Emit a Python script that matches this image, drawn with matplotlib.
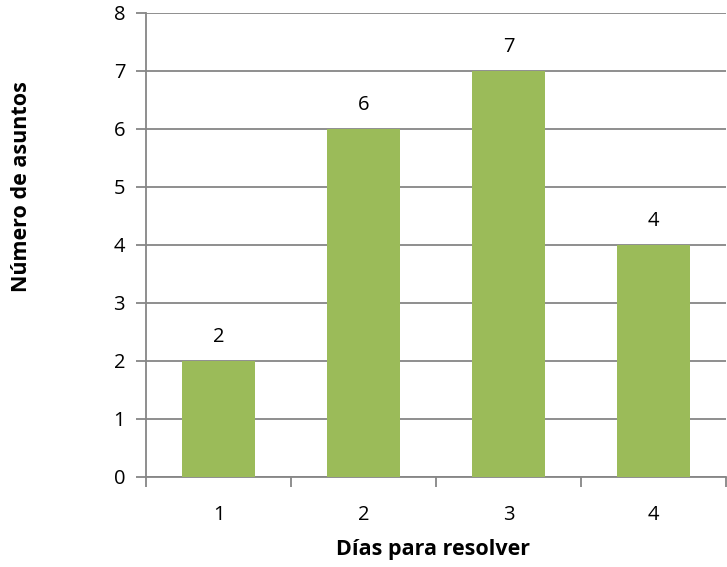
import numpy as np
import matplotlib.pyplot as plt

# datos
dias = ["1", "2", "3", "4"]
asuntos = [2, 6, 7, 4]
y_ticks = [0, 1, 2, 3, 4, 5, 6, 7, 8]

plt.rcParams['font.family'] = ['Open Sans', 'DejaVu Sans']
gris = '#868686'
verde = '#9BBB59'

fig = plt.figure(figsize=(7.27, 5.67), dpi=100)
ax = fig.add_axes([146/727, 1 - 477/567, 580/727, 464/567])

x = np.arange(len(dias))
barras = ax.bar(x, asuntos, width=0.5, color=verde, zorder=3)

for xi, v in zip(x, asuntos):
    ax.text(xi, v + 0.25, str(v), ha='center', va='bottom', fontsize=14.5)

ax.set_xlim(-0.5, len(dias) - 0.5)
ax.set_ylim(0, 8)
ax.set_yticks(y_ticks)
ax.yaxis.grid(True, color=gris, linewidth=1.3, zorder=0)

# ticks del eje x entre categorias
ax.set_xticks(np.arange(-0.5, len(dias), 1.0))
ax.set_xticklabels([])
ax.set_xticks(x, minor=True)
ax.set_xticklabels(dias, minor=True, fontsize=14.5)
ax.tick_params(axis='x', which='minor', length=0, pad=20)
ax.tick_params(axis='x', which='major', length=7, width=1.3, color=gris, direction='out')
ax.tick_params(axis='y', length=7, width=1.3, color=gris, labelsize=14.5, pad=8)

for lado in ['top', 'right']:
    ax.spines[lado].set_visible(False)
for lado in ['left', 'bottom']:
    ax.spines[lado].set_color(gris)
    ax.spines[lado].set_linewidth(1.3)

ax.set_xlabel("Días para resolver", fontsize=15.5, fontweight='bold', va='center')
ax.xaxis.set_label_coords(0.495, -0.157)
ax.set_ylabel("Número de asuntos", fontsize=15.5, fontweight='bold', va='center')
ax.yaxis.set_label_coords(-0.2155, 0.625)

plt.savefig("out.png", dpi=100)
